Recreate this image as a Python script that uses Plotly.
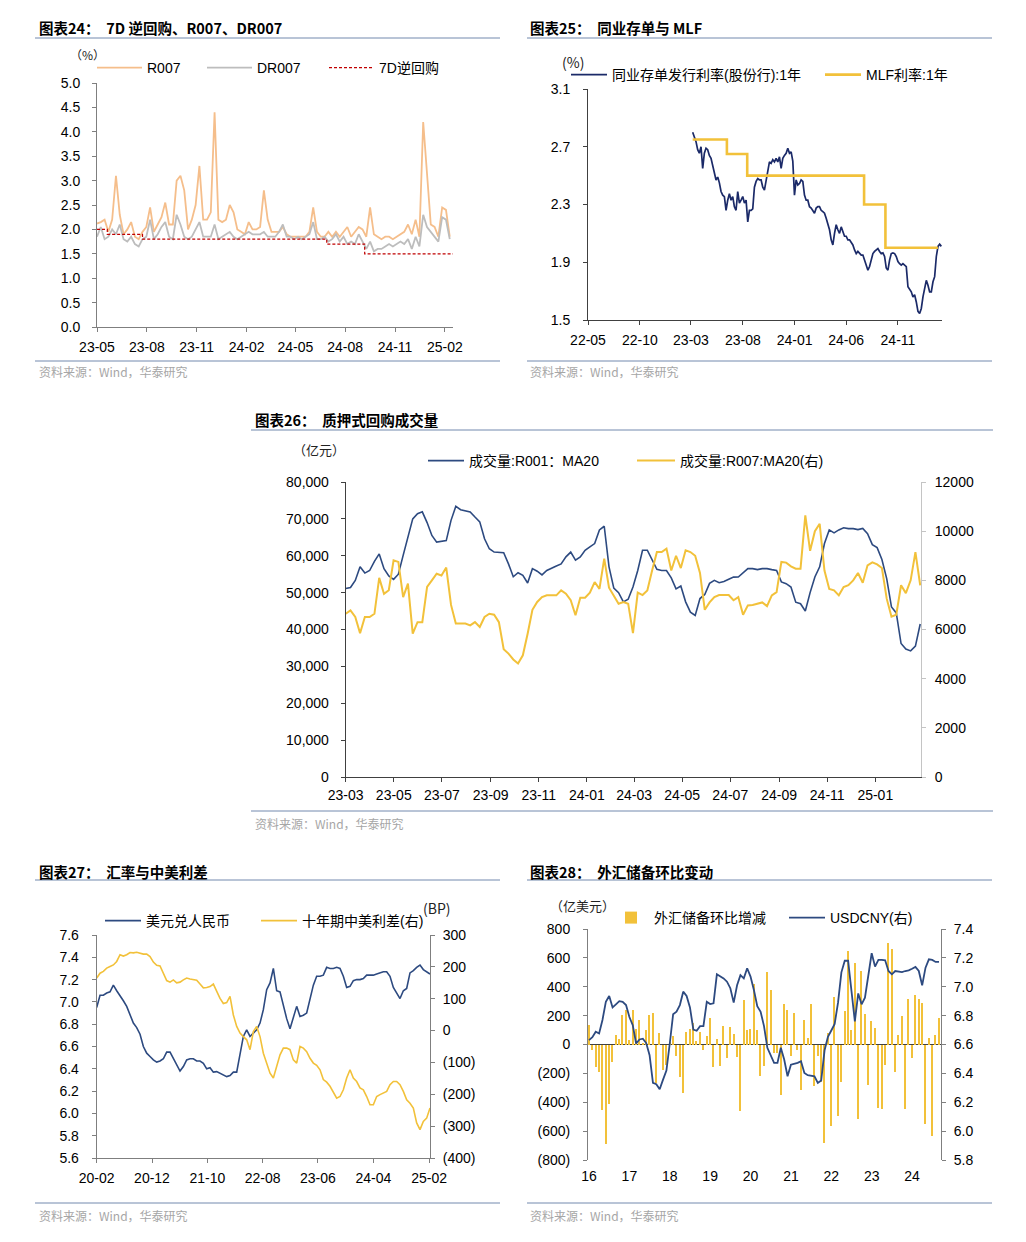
import plotly.graph_objects as go
import pandas as pd

W, H = 1026, 1242
OFF = 8  # page body margin of the html page
FONT = "Liberation Sans, Arial, Noto Sans CJK SC, sans-serif"
CJK = "Noto Sans CJK SC, Liberation Sans, sans-serif"


def X(p):
    return (p - OFF) / W


def Y(p):
    return 1 - (p - OFF) / H


# ---------------- Panel 24: 7D reverse repo, R007, DR007 (weekly samples) ----------------
r007 = [2.12, 2.15, 2.2, 1.95, 2.2, 3.1, 2.3, 1.9, 2.0, 2.15,
        1.85, 1.8, 1.95, 2.05, 2.45, 1.95, 2.1, 2.25, 2.55, 2.1,
        2.1, 3.0, 3.1, 2.8, 2.0, 2.2, 2.5, 3.3, 2.2, 2.2,
        2.35, 4.4, 2.2, 2.15, 2.2, 2.5, 2.35, 2.0, 1.95, 1.9,
        2.15, 2.0, 2.0, 2.05, 2.8, 2.2, 1.95, 1.95, 1.95, 2.05,
        1.9, 1.85, 1.85, 1.85, 1.85, 1.85, 1.95, 2.45, 1.95, 1.85,
        1.85, 1.95, 1.85, 1.95, 1.85, 1.95, 2.05, 1.85, 1.95, 2.05,
        2.0, 1.85, 2.45, 1.9, 1.85, 1.8, 1.85, 1.85, 1.8, 1.85,
        1.9, 1.95, 2.1, 1.9, 2.2, 1.85, 4.2, 3.15, 2.1, 2.05,
        1.85, 2.45, 2.4, 1.85]
dr007 = [1.85, 2.05, 1.8, 1.85, 2.0, 1.9, 2.1, 1.8, 1.75, 1.85,
         1.7, 1.65, 1.8, 1.85, 2.2, 1.8, 1.9, 2.05, 2.15, 1.85,
         1.8, 2.3, 2.1, 1.85, 1.8, 1.85, 2.0, 2.15, 1.85, 1.85,
         1.85, 2.1, 1.8, 1.85, 1.9, 1.95, 1.85, 1.8, 1.85, 1.9,
         1.95, 1.9, 1.9, 1.9, 1.95, 1.85, 1.85, 1.85, 1.95, 2.1,
         1.85, 1.85, 1.8, 1.85, 1.8, 1.85, 1.9, 2.15, 1.8, 1.8,
         1.85, 1.75, 1.8, 1.9, 1.75, 1.85, 1.7, 1.75, 1.7, 1.9,
         1.75, 1.6, 1.75, 1.55, 1.6, 1.6, 1.65, 1.7, 1.65, 1.7,
         1.75, 1.7, 1.8, 1.6, 1.85, 1.65, 2.3, 2.05, 1.95, 1.85,
         1.75, 2.25, 2.2, 1.8]
p1_dates = pd.date_range("2023-05-01", periods=len(r007), freq="7D")
repo7d_dates = ["2023-05-01", "2023-05-20", "2023-07-24", "2024-06-28", "2024-09-06", "2025-02-16"]
repo7d = [2.0, 1.9, 1.8, 1.7, 1.5, 1.5]

# ---------------- Panel 25: NCD rate vs MLF ----------------
ncd = [2.80, 2.77, 2.735, 2.68, 2.655, 2.70, 2.55, 2.655, 2.69, 2.68,
       2.64, 2.62, 2.57, 2.53, 2.47, 2.49, 2.45, 2.39, 2.365, 2.355,
       2.26, 2.33, 2.375, 2.33, 2.355, 2.285, 2.26, 2.39, 2.31, 2.33,
       2.355, 2.31, 2.33, 2.18, 2.26, 2.26, 2.27, 2.42, 2.46, 2.48,
       2.47, 2.47, 2.42, 2.40, 2.47, 2.515, 2.595, 2.585, 2.61, 2.595,
       2.62, 2.595, 2.63, 2.55, 2.62, 2.64, 2.655, 2.69, 2.655, 2.665,
       2.60, 2.365, 2.47, 2.435, 2.445, 2.47, 2.46, 2.365, 2.33, 2.33,
       2.285, 2.275, 2.26, 2.24, 2.275, 2.285, 2.285, 2.26, 2.25, 2.24,
       2.205, 2.17, 2.125, 2.055, 2.02, 2.10, 2.16, 2.125, 2.10, 2.145,
       2.11, 2.08, 2.08, 2.055, 2.055, 2.04, 2.02, 1.985, 1.96, 1.975,
       1.96, 1.95, 1.95, 1.915, 1.87, 1.845, 1.87, 1.925, 1.96, 1.975,
       1.985, 1.995, 1.975, 1.96, 1.965, 1.94, 1.86, 1.845, 1.915, 1.96,
       1.965, 1.96, 1.94, 1.905, 1.89, 1.88, 1.89, 1.88, 1.87, 1.73,
       1.71, 1.695, 1.66, 1.675, 1.625, 1.56, 1.545, 1.58, 1.66, 1.71,
       1.775, 1.74, 1.695, 1.695, 1.765, 1.80, 1.94, 2.01, 2.025, 2.01]
p2_dates = pd.date_range("2023-03-06", "2025-03-09", periods=len(ncd))
mlf_dates = ["2023-03-06", "2023-06-15", "2023-08-14", "2024-07-24", "2024-09-25", "2025-02-27"]
mlf = [2.75, 2.65, 2.5, 2.3, 2.0, 2.0]

# ---------------- Panel 26: pledged repo volume (MA20) ----------------
r001_vol = [51100, 51400, 53300, 57000, 55300, 56000, 58500, 60500, 56500, 54500,
            53600, 55000, 60100, 65000, 70000, 71400, 71900, 69000, 65500, 63700,
            63800, 64100, 69600, 73400, 72500, 72100, 71900, 70500, 69200, 64600,
            61900, 61000, 61000, 60800, 57800, 54300, 55400, 54700, 52600, 56500,
            55800, 54800, 56000, 56700, 57200, 57800, 59700, 61000, 58800, 59700,
            61500, 62400, 63300, 67000, 68000, 57000, 51200, 50000, 47500, 48200,
            51500, 56000, 61500, 61500, 59000, 56300, 56000, 56000, 54000, 51000,
            51800, 47500, 44700, 43800, 48400, 49500, 52500, 53340, 52700, 53000,
            53600, 54200, 54240, 55500, 56500, 56500, 56230, 56500, 56500, 56230,
            56000, 52900, 52430, 51500, 47400, 47000, 45000, 50000, 54240, 57000,
            63300, 67000, 66200, 67000, 67600, 67350, 67350, 67100, 67400, 66000,
            63000, 62200, 59000, 53800, 46100, 44500, 36200, 34700, 34200, 35500,
            41500]
r007_vol = [6640, 6780, 6510, 5850, 6510, 6510, 6640, 8100, 7450, 7600,
            8810, 8750, 7320, 7865, 5830, 6300, 6300, 7730, 8000, 8270,
            8200, 8520, 7000, 6240, 6240, 6240, 6170, 6300, 6100, 6510,
            6640, 6600, 6300, 5200, 5020, 4780, 4620, 4950, 5830, 6800,
            7120, 7320, 7390, 7400, 7390, 7590, 7460, 7190, 6580, 7290,
            7290, 7500, 7930, 7650, 8880, 7700, 7390, 7050, 7120, 7050,
            5850, 7500, 7400, 7590, 8400, 9150, 9150, 9290, 8400, 9000,
            8500, 9220, 9150, 9000, 8300, 6800, 7100, 7320, 7400, 7390,
            7400, 7190, 7320, 6600, 6980, 7000, 7050, 7100, 6950, 7390,
            7520, 8750, 8720, 8570, 8475, 8475, 10640, 9200, 10000, 10300,
            8400, 7650, 7594, 7390, 7729, 7800, 8000, 8300, 7900, 8610,
            8730, 8650, 8500, 7255, 6520, 6600, 7800, 7480, 8000, 9150,
            7800]
p3_dates = pd.date_range("2023-03-01", "2025-02-27", periods=len(r001_vol))

# ---------------- Panel 27: USDCNY vs 10Y China-US spread ----------------
usdcny_d = [6.95, 7.06, 7.06, 7.08, 7.09, 7.15, 7.10, 7.06, 7.01, 6.96,
            6.88, 6.81, 6.77, 6.71, 6.60, 6.54, 6.51, 6.48, 6.46, 6.47,
            6.49, 6.55, 6.55, 6.49, 6.44, 6.38, 6.42, 6.48, 6.49, 6.49,
            6.47, 6.47, 6.45, 6.40, 6.41, 6.37, 6.375, 6.36, 6.345, 6.33,
            6.34, 6.37, 6.37, 6.54, 6.69, 6.75, 6.69, 6.72, 6.75, 6.81,
            6.93, 7.11, 7.17, 7.30, 7.10, 7.09, 6.96, 6.85, 6.76, 6.85,
            6.96, 6.87, 6.88, 6.90, 7.02, 7.15, 7.23, 7.23, 7.24, 7.31,
            7.30, 7.30, 7.31, 7.30, 7.23, 7.13, 7.14, 7.19, 7.20, 7.20,
            7.21, 7.24, 7.24, 7.24, 7.25, 7.26, 7.27, 7.27, 7.23, 7.13,
            7.08, 7.03, 7.10, 7.12, 7.26, 7.28, 7.31, 7.33, 7.29, 7.27,
            7.25]
spread_bp = [165, 180, 186, 196, 201, 206, 217, 238, 234, 238,
             245, 244, 246, 243, 240, 240, 232, 215, 205, 203,
             180, 157, 152, 159, 150, 152, 159, 165, 162, 159,
             158, 146, 134, 135, 138, 146, 122, 101, 85, 88,
             107, 49, 13, -8, -19, -29, -60, -3, 13, -19,
             -71, -102, -134, -149, -113, -76, -55, -55, -60, -92,
             -102, -50, -55, -66, -87, -102, -109, -123, -154, -162,
             -175, -193, -212, -207, -186, -149, -123, -149, -160, -180,
             -186, -207, -233, -233, -207, -201, -196, -191, -170, -160,
             -160, -170, -191, -217, -228, -243, -290, -311, -285, -275,
             -243]
p4_dates = pd.date_range("2020-02-01", "2025-02-06", periods=len(usdcny_d))
p4_rtickvals = [300, 200, 100, 0, -100, -200, -300, -400]
p4_rticktext = ["300", "200", "100", "0", "(100)", "(200)", "(300)", "(400)"]

# ---------------- Panel 28: FX reserve MoM change (monthly, 2016-06 ~ 2025-02) ----------------
fx_chg = [134, -41, -159, -188, -457, -691, -411,
          -123, 69, 40, 204, 241, 32, 239, 108, 170, 7, 101, 207,
          215, -270, 83, -180, -142, 15, 58, -82, -227, -339, 86, 110,
          152, 23, 86, -40, 61, 182, -155, 35, -148, 128, -93, 123,
          76, -88, -461, 309, 102, 106, 421, 102, -220, -146, 505, 380,
          -58, -57, -350, 282, 236, -78, 219, -38, -315, 170, 48, 278,
          -286, -78, -258, -683, 81, -565, 328, -492, -259, 234, 651, 102,
          567, -513, 507, 209, -283, 165, 113, -442, -450, -139, 706, 662,
          -187, 65, 199, -449, 312, -96, 340, 318, 285, -554, 48, -635,
          67, 182]
usdcny_m = [6.63, 6.65, 6.688, 6.676, 6.77, 6.896, 6.936, 6.857, 6.878, 6.90,
            6.896, 6.873, 6.79, 6.734, 6.607, 6.635, 6.64, 6.61, 6.526, 6.334,
            6.325, 6.29, 6.357, 6.42, 6.607, 6.81, 6.827, 6.873, 6.966, 6.936,
            6.857, 6.704, 6.695, 6.727, 6.727, 6.896, 6.88, 6.885, 7.086, 7.074,
            7.058, 7.035, 6.99, 6.89, 7.01, 7.08, 7.058, 7.128, 7.07, 6.977,
            6.866, 6.827, 6.727, 6.577, 6.52, 6.473, 6.473, 6.577, 6.496, 6.38,
            6.46, 6.466, 6.473, 6.484, 6.403, 6.387, 6.385, 6.38, 6.334, 6.35,
            6.56, 6.653, 6.697, 6.743, 6.89, 7.10, 7.18, 7.18, 6.97, 6.76,
            6.954, 6.878, 6.924, 7.086, 7.232, 7.14, 7.186, 7.186, 7.183, 7.109,
            7.086, 7.109, 7.107, 7.102, 7.109, 7.114, 7.125, 7.137, 7.109, 7.01,
            7.132, 7.19, 7.186, 7.172, 7.172]
p5_idx = list(range(len(fx_chg)))
p5_xtickvals = [0, 12, 24, 36, 48, 60, 72, 84, 96]
p5_xticktext = ["16", "17", "18", "19", "20", "21", "22", "23", "24"]
p5_ltickvals = [800, 600, 400, 200, 0, -200, -400, -600, -800]
p5_lticktext = ["800", "600", "400", "200", "0", "(200)", "(400)", "(600)", "(800)"]

# ---------------- colours ----------------
C_R007 = "#F5BE8B"
C_DR007 = "#BDBDBD"
C_RED = "#C00000"
C_NAVY = "#1B2A68"
C_BLUE = "#2D4A80"
C_GOLD = "#F2C13A"

fig = go.Figure()

# panel 24
fig.add_trace(go.Scatter(x=p1_dates, y=r007, mode="lines", name="R007", showlegend=True,
                         line=dict(color=C_R007, width=1.8), xaxis="x", yaxis="y", legend="legend"))
fig.add_trace(go.Scatter(x=p1_dates, y=dr007, mode="lines", name="DR007", showlegend=True,
                         line=dict(color=C_DR007, width=1.8), xaxis="x", yaxis="y", legend="legend2"))
fig.add_trace(go.Scatter(x=repo7d_dates, y=repo7d, mode="lines", name="7D逆回购", line_shape="hv",
                         showlegend=True, line=dict(color=C_RED, width=1.2, dash="3px,2px"),
                         xaxis="x", yaxis="y", legend="legend3"))
# panel 25
fig.add_trace(go.Scatter(x=p2_dates, y=ncd, mode="lines", name="同业存单发行利率(股份行):1年",
                         showlegend=True, line=dict(color=C_NAVY, width=1.7),
                         xaxis="x2", yaxis="y2", legend="legend4"))
fig.add_trace(go.Scatter(x=mlf_dates, y=mlf, mode="lines", name="MLF利率:1年", line_shape="hv",
                         showlegend=True, line=dict(color=C_GOLD, width=2.6),
                         xaxis="x2", yaxis="y2", legend="legend5"))
# panel 26
fig.add_trace(go.Scatter(x=p3_dates, y=r001_vol, mode="lines", name="成交量:R001：MA20",
                         showlegend=True, line=dict(color=C_BLUE, width=1.6),
                         xaxis="x3", yaxis="y3", legend="legend6"))
fig.add_trace(go.Scatter(x=p3_dates, y=r007_vol, mode="lines", name="成交量:R007:MA20(右)",
                         showlegend=True, line=dict(color=C_GOLD, width=2.0),
                         xaxis="x3", yaxis="y4", legend="legend7"))
# panel 27
fig.add_trace(go.Scatter(x=p4_dates, y=usdcny_d, mode="lines", name="美元兑人民币",
                         showlegend=True, line=dict(color=C_BLUE, width=1.6),
                         xaxis="x4", yaxis="y5", legend="legend8"))
fig.add_trace(go.Scatter(x=p4_dates, y=spread_bp, mode="lines", name="十年期中美利差(右)",
                         showlegend=True, line=dict(color=C_GOLD, width=1.6),
                         xaxis="x4", yaxis="y6", legend="legend9"))
# panel 28
fig.add_trace(go.Bar(x=p5_idx, y=fx_chg, name="外汇储备环比增减", showlegend=True,
                     marker=dict(color=C_GOLD, line=dict(width=0)),
                     width=0.42, xaxis="x5", yaxis="y7", legend="legend10"))
fig.add_trace(go.Scatter(x=p5_idx, y=usdcny_m, mode="lines", name="USDCNY(右)", showlegend=True,
                         line=dict(color=C_BLUE, width=1.8), xaxis="x5", yaxis="y8", legend="legend11"))


def ax(**kw):
    d = dict(showline=True, linecolor="#7f7f7f", linewidth=1, ticks="outside", ticklen=4,
             tickcolor="#7f7f7f", showgrid=False, zeroline=False, fixedrange=True, automargin=False,
             tickfont=dict(family=FONT, size=14, color="#000"))
    d.update(kw)
    return d


def leg(x, y, iw=35, size=14):
    return dict(x=X(x - 5), y=Y(y), xanchor="left", yanchor="middle", orientation="h",
                bgcolor="rgba(0,0,0,0)", borderwidth=0, itemwidth=iw,
                font=dict(family=FONT, size=size, color="#000"))


layout = dict(
    width=W, height=H, autosize=False, showlegend=True,
    margin=dict(l=0, r=0, t=0, b=0, pad=0, autoexpand=False),
    paper_bgcolor="white", plot_bgcolor="white",
    font=dict(family=FONT, size=14, color="#000"),
    bargap=0,
    # panel 24
    xaxis=ax(domain=[X(97), X(453)], anchor="y", type="date", range=["2023-05-01", "2025-02-16"],
             dtick="M3", tick0="2023-05-01", tickformat="%y-%m", ticklabelstandoff=3),
    yaxis=ax(domain=[Y(327), Y(83)], anchor="x", range=[0, 5], dtick=0.5, tickformat=".1f",
             ticklabelstandoff=9),
    # panel 25
    xaxis2=ax(domain=[X(588), X(942)], anchor="y2", type="date", range=["2022-05-01", "2025-03-11"],
              dtick="M5", tick0="2022-05-01", tickformat="%y-%m", linecolor="#404040",
              tickcolor="#404040", ticklabelstandoff=3),
    yaxis2=ax(domain=[Y(320), Y(89)], anchor="x2", range=[1.5, 3.1], tickvals=[1.5, 1.9, 2.3, 2.7, 3.1],
              tickformat=".1f", linecolor="#404040", tickcolor="#404040", ticklabelstandoff=10),
    # panel 26
    xaxis3=ax(domain=[X(345.7), X(921)], anchor="y3", type="date", range=["2023-03-01", "2025-02-28"],
              dtick="M2", tick0="2023-03-01", tickformat="%y-%m", linecolor="#404040",
              tickcolor="#404040", ticklabelstandoff=1),
    yaxis3=ax(domain=[Y(777), Y(482)], anchor="x3", range=[0, 80000], dtick=10000, tickformat=",",
              linecolor="#404040", tickcolor="#404040", ticklabelstandoff=9),
    yaxis4=ax(domain=[Y(777), Y(482)], anchor="x3", overlaying="y3", side="right", range=[0, 12000],
              dtick=2000, tickformat="d", linecolor="#c4c4c4", tickcolor="#c4c4c4", ticklabelstandoff=6),
    # panel 27
    xaxis4=ax(domain=[X(96.7), X(430)], anchor="y5", type="date", range=["2020-02-01", "2025-02-06"],
              dtick="M10", tick0="2020-02-01", tickformat="%y-%m", ticklabelstandoff=3),
    yaxis5=ax(domain=[Y(1158), Y(935)], anchor="x4", range=[5.6, 7.6], dtick=0.2, tickformat=".1f",
              ticklabelstandoff=10),
    yaxis6=ax(domain=[Y(1158), Y(935)], anchor="x4", overlaying="y5", side="right", range=[-400, 300],
              tickvals=p4_rtickvals, ticktext=p4_rticktext, ticklabelstandoff=5),
    # panel 28
    xaxis5=ax(domain=[X(588), X(941)], anchor="y7", range=[-0.3, 104.6], tickvals=p5_xtickvals,
              ticktext=p5_xticktext, showline=False, ticks="", ticklabelstandoff=6),
    yaxis7=ax(domain=[Y(1160), Y(929)], anchor="x5", range=[-800, 800], tickvals=p5_ltickvals,
              ticktext=p5_lticktext, zeroline=True, zerolinecolor="#404040", zerolinewidth=1,
              ticklabelstandoff=10),
    yaxis8=ax(domain=[Y(1160), Y(929)], anchor="x5", overlaying="y7", side="right", range=[5.8, 7.4],
              dtick=0.2, tickformat=".1f", ticklabelstandoff=5),
    legend=leg(97, 68, iw=45),
    legend2=leg(207, 68, iw=45),
    legend3=leg(329, 68, iw=45),
    legend4=leg(571, 75, iw=36),
    legend5=leg(825, 75, iw=36),
    legend6=leg(428, 461, iw=36),
    legend7=leg(637, 461, iw=38),
    legend8=leg(105, 921, iw=36),
    legend9=leg(261, 921, iw=36),
    legend10=leg(613, 918, iw=36),
    legend11=leg(789, 918, iw=36),
)
fig.update_layout(**layout)

# titles, units, sources
titles = [(37, 28, "图表24：  7D 逆回购、R007、DR007"),
          (528, 28, "图表25：  同业存单与 MLF"),
          (253, 420, "图表26：  质押式回购成交量"),
          (37, 871, "图表27：  汇率与中美利差"),
          (528, 871, "图表28：  外汇储备环比变动")]
for x, y, t in titles:
    fig.add_annotation(x=X(x), y=Y(y), xref="paper", yref="paper", text="<b>" + t + "</b>",
                       showarrow=False, xanchor="left", yanchor="middle",
                       font=dict(family=CJK, size=14.5, color="#000"))

units = [(87, 55, "（%）", 12), (573, 62, "(%)", 14), (319, 449, "（亿元）", 13),
         (437, 908, "(BP)", 14), (582, 905, "（亿美元）", 13)]
for x, y, t, s in units:
    fig.add_annotation(x=X(x), y=Y(y), xref="paper", yref="paper", text=t, showarrow=False,
                       xanchor="center", yanchor="middle", font=dict(family=CJK, size=s, color="#222"))

sources = [(37, 372), (528, 372), (253, 823), (37, 1215), (528, 1215)]
for x, y in sources:
    fig.add_annotation(x=X(x), y=Y(y), xref="paper", yref="paper", text="资料来源：Wind，华泰研究",
                       showarrow=False, xanchor="left", yanchor="middle",
                       font=dict(family=CJK, size=12, color="#a6a6a6"))

rules = [(35, 500, 38), (527, 992, 38), (251, 993, 430), (35, 500, 880), (527, 992, 880),
         (35, 500, 361), (527, 992, 361), (251, 993, 811), (35, 500, 1203), (527, 992, 1203)]
for x0, x1, y in rules:
    fig.add_shape(type="line", xref="paper", yref="paper", x0=X(x0), x1=X(x1), y0=Y(y), y1=Y(y),
                  line=dict(color="#7389AE", width=1))

fig.write_html("out.html")
